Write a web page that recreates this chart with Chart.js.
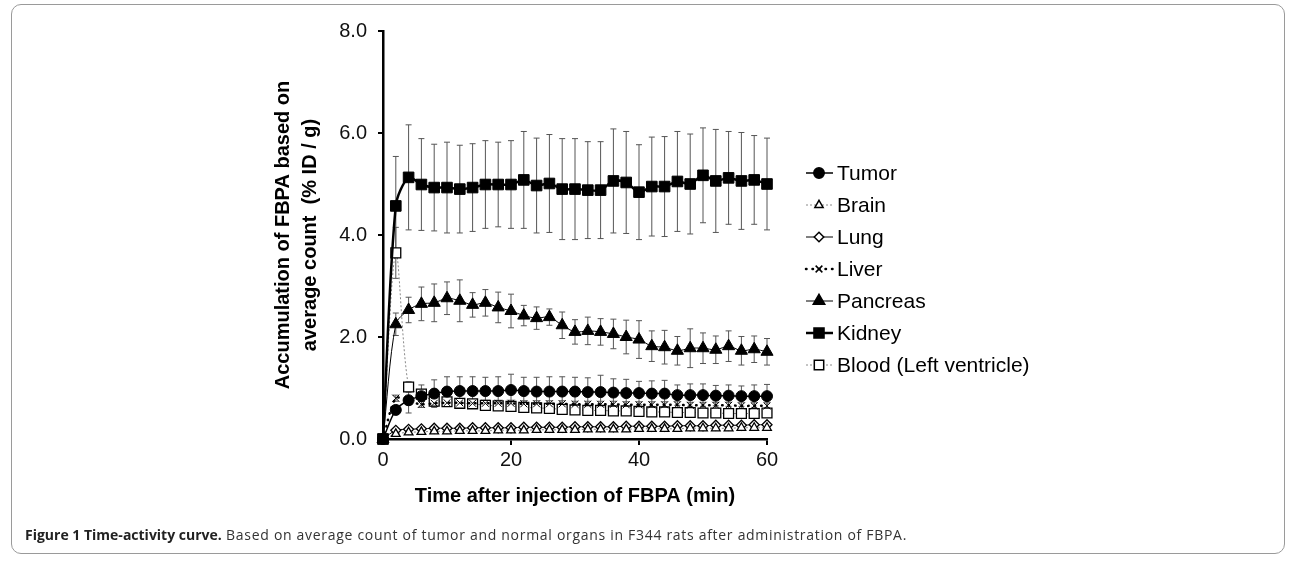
<!DOCTYPE html>
<html>
<head>
<meta charset="utf-8">
<script src="https://cdn.jsdelivr.net/npm/chart.js@4.4.1/dist/chart.umd.min.js"></script>
<style>
  body { margin: 0; background: #fff; }
  #wrap { position: relative; width: 1292px; height: 562px; overflow: hidden; }
  #frame { position: absolute; left: 11px; top: 4px; width: 1274px; height: 550px;
           border: 1px solid #9a9a9a; border-radius: 10px; box-sizing: border-box; }
  #chart { position: absolute; left: 0; top: 0; }
  #caption { position: absolute; left: 25px; top: 525px; font-family: "Open Sans", sans-serif;
             font-size: 14px; color: #333; white-space: nowrap; letter-spacing: 0.7px; }
  #caption b { color: #222; letter-spacing: 0; }
</style>
</head>
<body>
<div id="wrap">
  <div id="frame"></div>
  <canvas id="chart" width="1292" height="562"></canvas>
  <div id="caption"><b>Figure 1 Time-activity curve.</b> Based on average count of tumor and normal organs in F344 rats after administration of FBPA.</div>
</div>
<script>
// --- DATA ---
const times = [0, 2, 4, 6, 8, 10, 12, 14, 16, 18, 20, 22, 24, 26, 28, 30,
               32, 34, 36, 38, 40, 42, 44, 46, 48, 50, 52, 54, 56, 58, 60];

const tumor    = [0, 0.57, 0.76, 0.84, 0.89, 0.93, 0.94, 0.94, 0.94, 0.94, 0.96, 0.94, 0.93, 0.93, 0.93, 0.93,
                  0.92, 0.92, 0.91, 0.90, 0.90, 0.89, 0.89, 0.86, 0.86, 0.86, 0.85, 0.85, 0.84, 0.84, 0.84];
const tumorErr = [0, 0.08, 0.25, 0.22, 0.27, 0.29, 0.28, 0.28, 0.27, 0.28, 0.31, 0.27, 0.28, 0.29, 0.29, 0.28,
                  0.28, 0.33, 0.27, 0.27, 0.23, 0.25, 0.26, 0.20, 0.22, 0.22, 0.20, 0.21, 0.20, 0.22, 0.23];

const brain    = [0, 0.10, 0.13, 0.14, 0.15, 0.15, 0.16, 0.16, 0.16, 0.17, 0.17, 0.17, 0.18, 0.18, 0.18, 0.18,
                  0.19, 0.19, 0.19, 0.19, 0.20, 0.20, 0.20, 0.20, 0.21, 0.21, 0.21, 0.21, 0.22, 0.22, 0.22];
const brainErr = [0, 0.02, 0.03, 0.03, 0.03, 0.03, 0.03, 0.03, 0.03, 0.03, 0.03, 0.03, 0.03, 0.03, 0.03, 0.03,
                  0.03, 0.03, 0.03, 0.03, 0.03, 0.03, 0.03, 0.03, 0.03, 0.03, 0.03, 0.03, 0.03, 0.03, 0.03];

const lung     = [0, 0.17, 0.19, 0.20, 0.21, 0.21, 0.21, 0.22, 0.22, 0.22, 0.22, 0.23, 0.23, 0.23, 0.23, 0.24,
                  0.24, 0.24, 0.24, 0.25, 0.25, 0.25, 0.25, 0.26, 0.26, 0.26, 0.27, 0.27, 0.27, 0.28, 0.28];
const lungErr  = [0, 0.03, 0.03, 0.03, 0.03, 0.03, 0.03, 0.03, 0.03, 0.03, 0.03, 0.03, 0.03, 0.03, 0.03, 0.03,
                  0.03, 0.03, 0.03, 0.03, 0.03, 0.03, 0.03, 0.03, 0.03, 0.03, 0.03, 0.03, 0.03, 0.03, 0.03];

const liver    = [0, 0.80, 0.74, 0.68, 0.70, 0.71, 0.71, 0.70, 0.70, 0.70, 0.70, 0.69, 0.69, 0.69, 0.69, 0.68,
                  0.68, 0.68, 0.68, 0.67, 0.67, 0.67, 0.67, 0.67, 0.66, 0.66, 0.66, 0.66, 0.65, 0.65, 0.65];
const liverErr = [0, 0.06, 0.07, 0.06, 0.06, 0.06, 0.06, 0.06, 0.06, 0.06, 0.06, 0.06, 0.06, 0.06, 0.06, 0.06,
                  0.06, 0.06, 0.06, 0.06, 0.06, 0.06, 0.06, 0.06, 0.06, 0.06, 0.06, 0.06, 0.06, 0.06, 0.06];

const pancreas    = [0, 2.25, 2.53, 2.65, 2.67, 2.76, 2.71, 2.63, 2.67, 2.58, 2.51, 2.42, 2.37, 2.39, 2.23, 2.10,
                     2.12, 2.10, 2.06, 2.00, 1.95, 1.82, 1.80, 1.73, 1.78, 1.78, 1.75, 1.82, 1.73, 1.76, 1.71];
const pancreasErr = [0, 0.22, 0.25, 0.33, 0.37, 0.32, 0.41, 0.24, 0.26, 0.30, 0.33, 0.20, 0.22, 0.16, 0.26, 0.24,
                     0.27, 0.26, 0.29, 0.33, 0.37, 0.30, 0.33, 0.28, 0.38, 0.30, 0.27, 0.30, 0.28, 0.26, 0.26];

const kidney    = [0, 4.57, 5.13, 4.99, 4.93, 4.93, 4.90, 4.93, 4.99, 4.99, 4.99, 5.08, 4.97, 5.01, 4.90, 4.90,
                   4.88, 4.88, 5.06, 5.03, 4.84, 4.95, 4.95, 5.05, 5.00, 5.17, 5.06, 5.12, 5.06, 5.08, 5.00];
const kidneyErr = [0, 0.97, 1.03, 0.90, 0.85, 0.89, 0.86, 0.86, 0.86, 0.83, 0.86, 0.95, 0.93, 0.96, 0.99, 0.99,
                   0.95, 0.95, 1.02, 1.00, 0.93, 0.97, 0.98, 0.98, 0.98, 0.93, 1.01, 0.91, 0.95, 0.87, 0.90];

const blood    = [0, 3.65, 1.02, 0.88, 0.74, 0.73, 0.70, 0.69, 0.66, 0.65, 0.64, 0.62, 0.61, 0.60, 0.58, 0.57,
                  0.56, 0.56, 0.55, 0.55, 0.54, 0.53, 0.53, 0.52, 0.52, 0.51, 0.51, 0.50, 0.50, 0.50, 0.51];
const bloodErr = [0, 0.50, 0.10, 0.08, 0.07, 0.07, 0.06, 0.06, 0.06, 0.06, 0.06, 0.06, 0.06, 0.06, 0.05, 0.05,
                  0.05, 0.05, 0.05, 0.05, 0.05, 0.05, 0.05, 0.05, 0.05, 0.05, 0.05, 0.05, 0.05, 0.05, 0.05];

const yTicks = [0, 2, 4, 6, 8];
const xTicks = [0, 20, 40, 60];

const FONT = '"Liberation Sans", Arial, sans-serif';

function pts(vals) {
    return vals.map((v, i) => ({ x: times[i], y: v }));
}

// --- series styles ---
const series = [
    { label: 'Tumor', data: tumor, err: tumorErr, style: 'circle', r: 5.5, fill: '#000',
      line: '#000', lw: 1.5, dash: [] },
    { label: 'Brain', data: brain, err: brainErr, style: 'triangle', r: 5, fill: '#fff',
      line: '#888', lw: 1, dash: [2, 2] },
    { label: 'Lung', data: lung, err: lungErr, style: 'rectRot', r: 5, fill: '#fff',
      line: '#000', lw: 1, dash: [] },
    { label: 'Liver', data: liver, err: liverErr, style: 'crossRot', r: 5, fill: '#000',
      line: '#000', lw: 2.5, dash: [0.5, 6], cap: 'round' },
    { label: 'Pancreas', data: pancreas, err: pancreasErr, style: 'triangle', r: 7, fill: '#000',
      line: '#000', lw: 1, dash: [] },
    { label: 'Kidney', data: kidney, err: kidneyErr, style: 'rect', r: 7.5, fill: '#000',
      line: '#000', lw: 2.5, dash: [] },
    { label: 'Blood (Left ventricle)', data: blood, err: bloodErr, style: 'rect', r: 7, fill: '#fff',
      line: '#888', lw: 1, dash: [2, 2] }
];

// --- error bars, drawn under the markers ---
const errorBars = {
    id: 'errorBars',
    beforeDatasetsDraw(chart) {
        const ctx = chart.ctx;
        const xs = chart.scales.x, ys = chart.scales.y;
        ctx.save();
        chart.data.datasets.forEach((ds, di) => {
            if (!chart.isDatasetVisible(di)) return;
            ds.errors.forEach((e, i) => {
                if (!e) return;
                const v = ds.data[i].y;
                const x = xs.getPixelForValue(ds.data[i].x);
                const yt = ys.getPixelForValue(v + e);
                const yb = ys.getPixelForValue(v - e);
                ctx.strokeStyle = '#555';
                ctx.lineWidth = 1;
                ctx.setLineDash([]);
                ctx.beginPath();
                ctx.moveTo(x, yt); ctx.lineTo(x, yb);
                ctx.moveTo(x - 3, yt); ctx.lineTo(x + 3, yt);
                ctx.moveTo(x - 3, yb); ctx.lineTo(x + 3, yb);
                ctx.stroke();
            });
        });
        ctx.restore();
    }
};

// --- legend with line + marker, like the spreadsheet legend ---
const sideLegend = {
    id: 'sideLegend',
    afterDraw(chart) {
        const ctx = chart.ctx;
        const x0 = 806, x1 = 833, xm = 819, xt = 837;
        let y = 173;
        ctx.save();
        series.forEach(s => {
            ctx.strokeStyle = s.line;
            ctx.lineWidth = s.lw;
            ctx.lineCap = s.cap || 'butt';
            ctx.setLineDash(s.dash);
            ctx.beginPath();
            ctx.moveTo(x0, y); ctx.lineTo(x1, y);
            ctx.stroke();
            ctx.setLineDash([]);
            ctx.lineCap = 'butt';
            ctx.fillStyle = s.fill;
            ctx.strokeStyle = '#000';
            ctx.lineWidth = 1.5;
            Chart.helpers.drawPoint(ctx, { pointStyle: s.style, radius: s.r * 0.95, borderWidth: 1.5 }, xm, y);
            ctx.fillStyle = '#000';
            ctx.font = '21px ' + FONT;
            ctx.textBaseline = 'middle';
            ctx.textAlign = 'left';
            ctx.fillText(s.label, xt, y + 1);
            y += 32;
        });
        ctx.restore();
    }
};

const datasets = series.map(s => ({
    label: s.label,
    data: pts(s.data),
    errors: s.err,
    borderColor: s.line,
    borderWidth: s.lw,
    borderDash: s.dash,
    borderCapStyle: s.cap || 'butt',
    tension: 0.3,
    pointStyle: s.style,
    pointRadius: s.r,
    pointBackgroundColor: s.fill,
    pointBorderColor: '#000',
    pointBorderWidth: s.fill === '#fff' ? 1.3 : 1,
    pointHoverRadius: s.r,
    clip: false
}));

new Chart(document.getElementById('chart'), {
    type: 'line',
    data: { datasets },
    options: {
        responsive: false,
        animation: false,
        events: [],
        layout: { padding: { left: 262, right: 525, top: 31, bottom: 48 } },
        plugins: { legend: { display: false }, tooltip: { enabled: false } },
        scales: {
            x: {
                type: 'linear', min: 0, max: 60,
                afterFit(scale) { scale.height = 75; },
                afterBuildTicks(scale) { scale.ticks = xTicks.map(v => ({ value: v })); },
                grid: { drawOnChartArea: false, drawTicks: true, tickLength: 6, color: '#000', lineWidth: 2 },
                border: { display: true, color: '#000', width: 2.5 },
                ticks: { color: '#111', padding: 3, font: { family: FONT, size: 20 } },
                title: { display: true, text: 'Time after injection of FBPA (min)', color: '#000',
                         font: { family: FONT, size: 20, weight: 'bold', lineHeight: 1.2 },
                         padding: { top: 0, bottom: 6 } }
            },
            y: {
                min: 0, max: 8,
                afterFit(scale) { scale.width = 121; },
                afterBuildTicks(scale) { scale.ticks = yTicks.map(v => ({ value: v })); },
                grid: { drawOnChartArea: false, drawTicks: true, tickLength: 5, color: '#000', lineWidth: 2 },
                border: { display: true, color: '#000', width: 2.5 },
                ticks: { color: '#111', padding: 11, font: { family: FONT, size: 20 },
                         callback: v => v.toFixed(1) },
                title: { display: true, text: ['Accumulation of FBPA based on', 'average count  (% ID / g)'],
                         color: '#000', font: { family: FONT, size: 20, weight: 'bold', lineHeight: 1.35 },
                         padding: { top: 8, bottom: 0 } }
            }
        }
    },
    plugins: [errorBars, sideLegend]
});
</script>
</body>
</html>
